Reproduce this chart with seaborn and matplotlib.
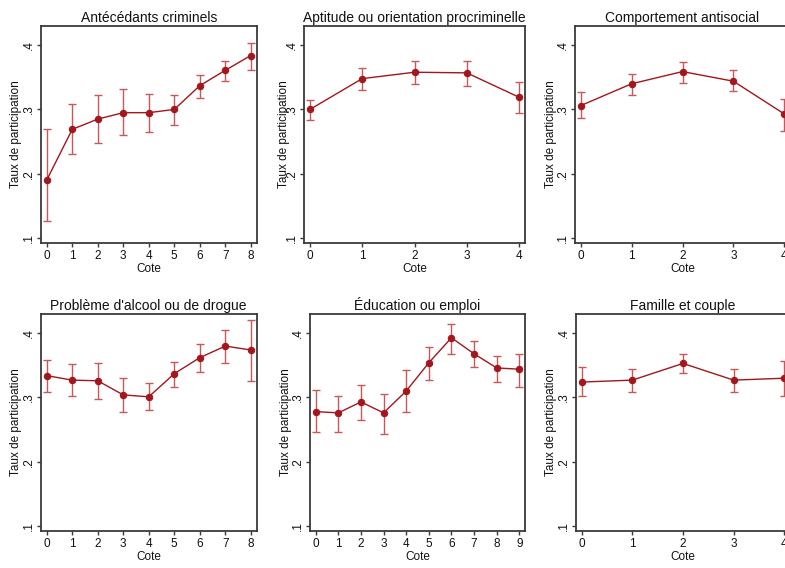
import numpy as np
import pandas as pd
import seaborn as sns
import matplotlib
matplotlib.use("Agg")
import matplotlib.pyplot as plt
from matplotlib.ticker import FuncFormatter

# Participation rate by score (cote) for each risk domain, with 95% CI bounds
titles = [
    "Antécédants criminels",
    "Aptitude ou orientation procriminelle",
    "Comportement antisocial",
    "Problème d'alcool ou de drogue",
    "Éducation ou emploi",
    "Famille et couple",
]

criminels_rate = [0.190, 0.269, 0.285, 0.295, 0.295, 0.300, 0.337, 0.361, 0.384]
criminels_lo = [0.127, 0.231, 0.247, 0.260, 0.265, 0.276, 0.318, 0.345, 0.361]
criminels_hi = [0.270, 0.308, 0.323, 0.332, 0.324, 0.323, 0.353, 0.376, 0.404]

aptitude_rate = [0.300, 0.348, 0.358, 0.357, 0.319]
aptitude_lo = [0.283, 0.330, 0.340, 0.336, 0.295]
aptitude_hi = [0.314, 0.365, 0.375, 0.376, 0.342]

antisocial_rate = [0.306, 0.340, 0.359, 0.344, 0.293]
antisocial_lo = [0.286, 0.322, 0.341, 0.328, 0.267]
antisocial_hi = [0.327, 0.355, 0.374, 0.361, 0.317]

alcool_rate = [0.334, 0.327, 0.326, 0.304, 0.301, 0.337, 0.362, 0.380, 0.374]
alcool_lo = [0.308, 0.302, 0.298, 0.277, 0.280, 0.316, 0.339, 0.354, 0.325]
alcool_hi = [0.359, 0.352, 0.354, 0.331, 0.322, 0.355, 0.383, 0.405, 0.421]

education_rate = [0.278, 0.276, 0.293, 0.276, 0.310, 0.354, 0.393, 0.368, 0.346, 0.344]
education_lo = [0.246, 0.246, 0.265, 0.243, 0.278, 0.327, 0.368, 0.347, 0.324, 0.317]
education_hi = [0.311, 0.303, 0.319, 0.306, 0.342, 0.379, 0.415, 0.388, 0.365, 0.368]

famille_rate = [0.324, 0.327, 0.353, 0.327, 0.330]
famille_lo = [0.302, 0.309, 0.338, 0.309, 0.302]
famille_hi = [0.347, 0.345, 0.368, 0.345, 0.357]

y_ticks = [0.1, 0.2, 0.3, 0.4]

panels = [
    (criminels_rate, criminels_lo, criminels_hi),
    (aptitude_rate, aptitude_lo, aptitude_hi),
    (antisocial_rate, antisocial_lo, antisocial_hi),
    (alcool_rate, alcool_lo, alcool_hi),
    (education_rate, education_lo, education_hi),
    (famille_rate, famille_lo, famille_hi),
]

sns.set_theme(style="ticks")
plt.rcParams["font.family"] = ["Liberation Sans", "DejaVu Sans"]

W, H = 785, 568
fig = plt.figure(figsize=(W / 100, H / 100), dpi=100)
fig.patch.set_facecolor("white")

# panel frames in pixels: (left, top, width); the third column runs past the edge
frames = [
    (41, 26, 215.5), (304, 26, 221), (575, 26, 215),
    (41, 314, 215.5), (310, 314, 215), (576, 314, 214),
]
ylabel_off = [-19, -14, -18, -19, -18, -19]
ax_h = 217

line_col = "#a3161c"
err_col = "#c9575a"
frame_col = "#3a3a3a"


def stata_fmt(v, _pos):
    s = f"{v:.1f}"
    return s[1:] if s.startswith("0") else s


for i, (title, (rate, lo, hi)) in enumerate(zip(titles, panels)):
    px, py, pw = frames[i]
    ax = fig.add_axes([px / W, (H - py - ax_h) / H, pw / W, ax_h / H])

    df = pd.DataFrame({
        "Cote": np.arange(len(rate)),
        "taux": rate,
        "lo": lo,
        "hi": hi,
    })

    ax.errorbar(df["Cote"], df["taux"],
                yerr=[df["taux"] - df["lo"], df["hi"] - df["taux"]],
                fmt="none", ecolor=err_col, elinewidth=1.0,
                capsize=2.6, capthick=1.0, zorder=2)
    sns.lineplot(data=df, x="Cote", y="taux", ax=ax, color=line_col,
                 linewidth=1.0, marker="o", markersize=4.6,
                 markeredgecolor=line_col, zorder=3)

    n = len(rate) - 1
    ax.set_ylim(0.092, 0.430)
    ax.set_xlim(-0.028 * n, n * 1.028)
    ax.set_xticks(df["Cote"])
    ax.set_yticks(y_ticks)
    ax.yaxis.set_major_formatter(FuncFormatter(stata_fmt))
    for lab in ax.get_yticklabels():
        lab.set_rotation(90)
        lab.set_va("center")

    ax.set_title(title, fontsize=10, pad=3, color="#111111")
    ax.set_xlabel("Cote", fontsize=8.5, labelpad=1, color="#111111")
    ax.set_ylabel("Taux de participation", fontsize=8.5, color="#111111")
    ax.yaxis.set_label_coords(ylabel_off[i] / pw, 0.5)
    ax.tick_params(axis="both", labelsize=8.5, length=3, width=1,
                   color=frame_col, pad=2, labelcolor="#111111")
    ax.tick_params(axis="y", pad=1.5)
    for sp in ax.spines.values():
        sp.set_visible(True)
        sp.set_color(frame_col)
        sp.set_linewidth(1.3)

fig.savefig("out.png", dpi=100, facecolor="white")
